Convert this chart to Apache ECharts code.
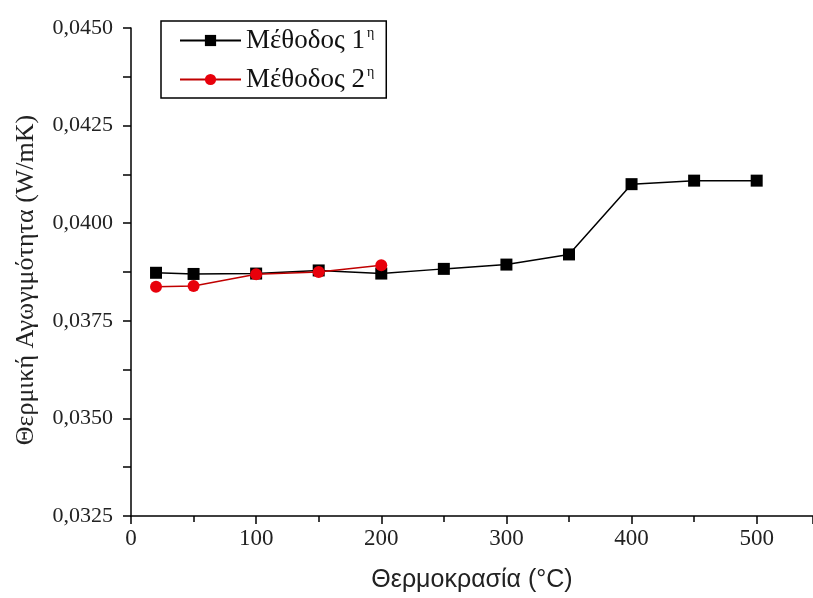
<!DOCTYPE html>
<html>
<head>
<meta charset="utf-8">
<script src="https://cdn.jsdelivr.net/npm/echarts@6/dist/echarts.min.js"></script>
<style>
  html, body { margin: 0; padding: 0; background: #fff; }
  #chart { width: 813px; height: 598px; }
</style>
</head>
<body>
<div id="chart"></div>
<script>
// Temperature (°C) and thermal conductivity (W/mK) for the two methods
const tempsMethod1 = [20, 50, 100, 150, 200, 250, 300, 350, 400, 450, 500];
const kMethod1 = [0.03873, 0.03870, 0.03871, 0.03879, 0.03871, 0.03883, 0.03894, 0.03920, 0.04100, 0.04109, 0.04109];
const tempsMethod2 = [20, 50, 100, 150, 200];
const kMethod2 = [0.03837, 0.03839, 0.03869, 0.03875, 0.03892];
const seriesNames = ['Μέθοδος 1', 'Μέθοδος 2'];
const xTitle = 'Θερμοκρασία (°C)';
const yTitle = 'Θερμική Αγωγιμότητα (W/mK)';

const pairs = (xs, ys) => xs.map((x, i) => [x, ys[i]]);
const serif = '"Liberation Serif", "DejaVu Serif", serif';

const chart = echarts.init(document.getElementById('chart'), null, { renderer: 'canvas' });
chart.setOption({
  backgroundColor: '#ffffff',
  animation: false,
  grid: { left: 131, top: 28, right: 0, bottom: 81, containLabel: false },
  legend: {
    left: 161, top: 21,
    orient: 'vertical',
    itemWidth: 61, itemHeight: 14, itemGap: 10,
    padding: [5, 12, 4, 18],
    borderColor: '#000', borderWidth: 1.5,
    backgroundColor: '#fff',
    data: seriesNames,
    formatter: name => name + '{sup|η}',
    textStyle: {
      fontFamily: serif, fontSize: 27, lineHeight: 29, color: '#111',
      rich: { sup: { fontFamily: serif, fontSize: 14, verticalAlign: 'top', padding: [0, 0, 14, 2] } }
    }
  },
  xAxis: {
    type: 'value',
    min: 0, max: 545, interval: 100,
    name: xTitle, nameLocation: 'middle', nameGap: 52,
    nameTextStyle: { fontFamily: '"Liberation Sans", Arial, sans-serif', fontSize: 25, color: '#222' },
    axisLine: { show: true, lineStyle: { color: '#000', width: 1.5 } },
    axisTick: { show: true, length: 8, lineStyle: { color: '#000', width: 1.5 } },
    minorTick: { show: true, splitNumber: 2, length: 6, lineStyle: { color: '#000', width: 1.5 } },
    splitLine: { show: false },
    axisLabel: { showMaxLabel: false, margin: 11, fontFamily: serif, fontSize: 23, color: '#222' }
  },
  yAxis: {
    type: 'value',
    min: 0.0325, max: 0.0450, interval: 0.0025,
    name: yTitle, nameLocation: 'middle', nameGap: 92, nameRotate: 90,
    nameTextStyle: { fontFamily: serif, fontSize: 26, color: '#222', padding: [0, 16, 0, 0] },
    axisLine: { show: true, lineStyle: { color: '#000', width: 1.5 } },
    axisTick: { show: true, length: 8, lineStyle: { color: '#000', width: 1.5 } },
    minorTick: { show: true, splitNumber: 2, length: 8, lineStyle: { color: '#000', width: 1.5 } },
    splitLine: { show: false },
    axisLabel: {
      margin: 18, fontFamily: serif, fontSize: 22, color: '#222',
      formatter: v => v.toFixed(4).replace('.', ',')
    }
  },
  series: [
    {
      name: seriesNames[0], type: 'line',
      data: pairs(tempsMethod1, kMethod1),
      symbol: 'rect', symbolSize: 12,
      itemStyle: { color: '#000' },
      lineStyle: { color: '#000', width: 1.5 },
      z: 2
    },
    {
      name: seriesNames[1], type: 'line',
      data: pairs(tempsMethod2, kMethod2),
      symbol: 'circle', symbolSize: 12,
      itemStyle: { color: '#e8000b' },
      lineStyle: { color: '#c00000', width: 1.5 },
      z: 3
    }
  ]
});
</script>
</body>
</html>
